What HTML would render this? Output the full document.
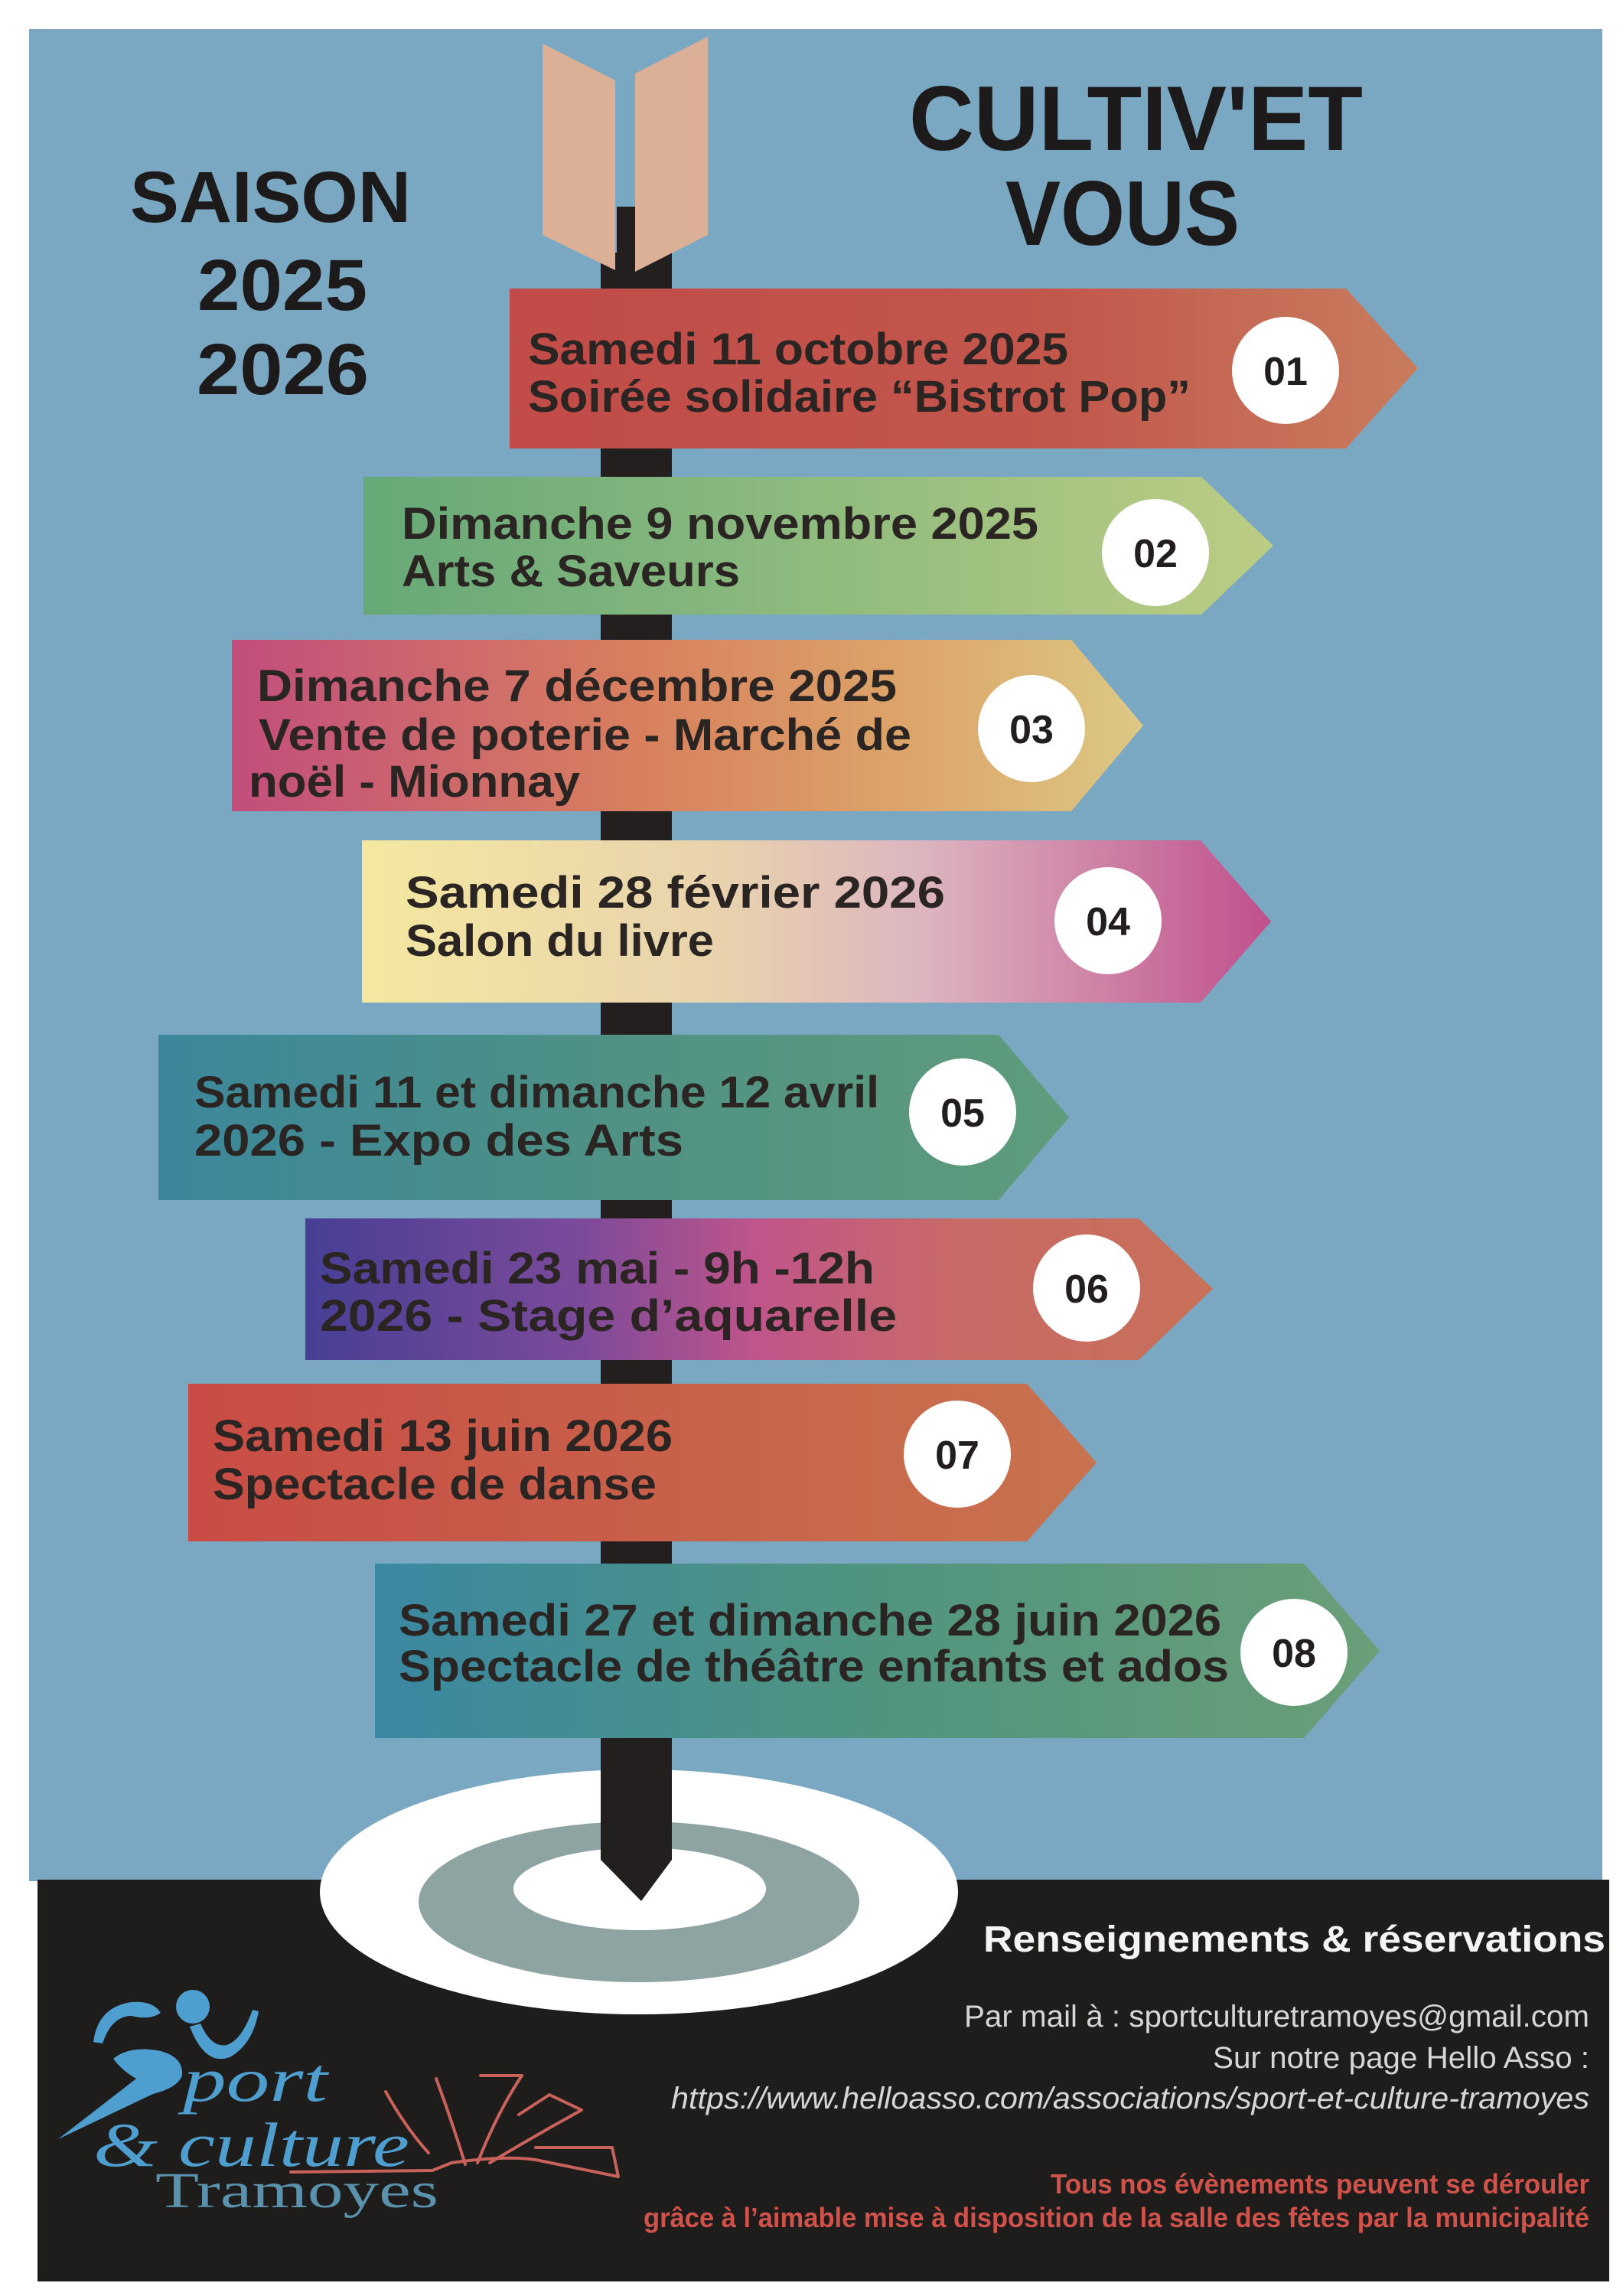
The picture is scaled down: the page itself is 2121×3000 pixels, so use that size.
<!DOCTYPE html>
<html><head><meta charset="utf-8"><style>
html,body{margin:0;padding:0;background:#fff;}
svg{display:block;}
</style></head><body>
<svg width="2121" height="3000" viewBox="0 0 2121 3000" xmlns="http://www.w3.org/2000/svg">
<defs>
<linearGradient id="g1"><stop offset="0" stop-color="#c14b48"/><stop offset="0.6" stop-color="#c2574c"/><stop offset="1" stop-color="#c87c5d"/></linearGradient>
<linearGradient id="g2"><stop offset="0" stop-color="#66a878"/><stop offset="0.5" stop-color="#8fbb7e"/><stop offset="1" stop-color="#bccd84"/></linearGradient>
<linearGradient id="g3"><stop offset="0" stop-color="#c24e7c"/><stop offset="0.45" stop-color="#d8805e"/><stop offset="0.75" stop-color="#dca66a"/><stop offset="1" stop-color="#dcc884"/></linearGradient>
<linearGradient id="g4"><stop offset="0" stop-color="#f4e8a0"/><stop offset="0.4" stop-color="#e8d2ae"/><stop offset="0.62" stop-color="#dcb4c0"/><stop offset="1" stop-color="#c0508c"/></linearGradient>
<linearGradient id="g5"><stop offset="0" stop-color="#3b879c"/><stop offset="0.5" stop-color="#4f9184"/><stop offset="1" stop-color="#5f9c7c"/></linearGradient>
<linearGradient id="g6"><stop offset="0" stop-color="#473f95"/><stop offset="0.3" stop-color="#7b4a9a"/><stop offset="0.5" stop-color="#c0558a"/><stop offset="0.72" stop-color="#c86a66"/><stop offset="1" stop-color="#c87058"/></linearGradient>
<linearGradient id="g7"><stop offset="0" stop-color="#c84c45"/><stop offset="1" stop-color="#c8734f"/></linearGradient>
<linearGradient id="g8"><stop offset="0" stop-color="#3a88a2"/><stop offset="0.5" stop-color="#50947f"/><stop offset="1" stop-color="#6a9f78"/></linearGradient>
</defs>

<rect x="0" y="0" width="2121" height="3000" fill="#ffffff"/>
<rect x="38" y="38" width="2056" height="2420" fill="#7aa8c2"/>
<rect x="49" y="2456" width="2054" height="525" fill="#1f1c1c"/>

<g font-family="Liberation Sans, sans-serif" font-weight="bold" fill="#1c1a1a">
<text x="1188" y="196" font-size="120" textLength="593" lengthAdjust="spacingAndGlyphs">CULTIV'ET</text>
<text x="1314" y="320" font-size="120" textLength="306" lengthAdjust="spacingAndGlyphs">VOUS</text>
<text x="170" y="290" font-size="95" textLength="367" lengthAdjust="spacingAndGlyphs">SAISON</text>
<text x="258" y="405" font-size="95" textLength="222" lengthAdjust="spacingAndGlyphs">2025</text>
<text x="257" y="515" font-size="95" textLength="225" lengthAdjust="spacingAndGlyphs">2026</text>
</g>

<rect x="806" y="270" width="24" height="80" fill="#231f1e"/>
<path d="M785,330 L878,330 L878,2430 L838,2484 L785,2430 Z" fill="#231f1e"/>
<polygon points="709,57 804,105 804,353 709,307" fill="#dcb096"/>
<polygon points="925,48 830,96 830,355 925,307" fill="#dcb096"/>

<ellipse cx="835" cy="2472" rx="417" ry="160" fill="#ffffff"/>
<ellipse cx="835" cy="2485" rx="288" ry="105" fill="#8ea4a3"/>
<ellipse cx="836" cy="2468" rx="165" ry="54" fill="#ffffff"/>
<path d="M785,2300 L878,2300 L878,2430 L838,2484 L785,2430 Z" fill="#231f1e"/>

<polygon points="666,377 1759,377 1853,481 1759,586 666,586" fill="url(#g1)"/>
<polygon points="475,623 1570,623 1664,713 1570,803 475,803" fill="url(#g2)"/>
<polygon points="303,836 1400,836 1494,948 1400,1060 303,1060" fill="url(#g3)"/>
<polygon points="473,1098 1569,1098 1661,1204 1569,1310 473,1310" fill="url(#g4)"/>
<polygon points="207,1352 1305,1352 1397,1460 1305,1568 207,1568" fill="url(#g5)"/>
<polygon points="399,1592 1488,1592 1585,1684 1488,1777 399,1777" fill="url(#g6)"/>
<polygon points="246,1808 1342,1808 1433,1911 1342,2014 246,2014" fill="url(#g7)"/>
<polygon points="490,2043 1704,2043 1803,2157 1704,2271 490,2271" fill="url(#g8)"/>

<g fill="#ffffff">
<circle cx="1680" cy="484" r="70"/>
<circle cx="1510" cy="722" r="70"/>
<circle cx="1348" cy="952" r="70"/>
<circle cx="1448" cy="1203" r="70"/>
<circle cx="1258" cy="1453" r="70"/>
<circle cx="1420" cy="1683" r="70"/>
<circle cx="1251" cy="1900" r="70"/>
<circle cx="1691" cy="2159" r="70"/>
</g>
<g font-family="Liberation Sans, sans-serif" font-weight="bold" fill="#221e1d" font-size="52" text-anchor="middle">
<text x="1680" y="503">01</text>
<text x="1510" y="741">02</text>
<text x="1348" y="971">03</text>
<text x="1448" y="1222">04</text>
<text x="1258" y="1472">05</text>
<text x="1420" y="1702">06</text>
<text x="1251" y="1919">07</text>
<text x="1691" y="2178">08</text>
</g>

<g font-family="Liberation Sans, sans-serif" font-weight="bold" fill="#2a2422" font-size="58">
<text x="690" y="476" textLength="706" lengthAdjust="spacingAndGlyphs">Samedi 11 octobre 2025</text>
<text x="690" y="538" textLength="866" lengthAdjust="spacingAndGlyphs">Soirée solidaire “Bistrot Pop”</text>
<text x="525" y="704" textLength="832" lengthAdjust="spacingAndGlyphs">Dimanche 9 novembre 2025</text>
<text x="525" y="766" textLength="442" lengthAdjust="spacingAndGlyphs">Arts &amp; Saveurs</text>
<text x="336" y="916" textLength="836" lengthAdjust="spacingAndGlyphs">Dimanche 7 décembre 2025</text>
<text x="338" y="980" textLength="853" lengthAdjust="spacingAndGlyphs">Vente de poterie - Marché de</text>
<text x="325" y="1041" textLength="433" lengthAdjust="spacingAndGlyphs">noël - Mionnay</text>
<text x="530" y="1186" textLength="705" lengthAdjust="spacingAndGlyphs">Samedi 28 février 2026</text>
<text x="530" y="1249" textLength="403" lengthAdjust="spacingAndGlyphs">Salon du livre</text>
<text x="254" y="1447" textLength="895" lengthAdjust="spacingAndGlyphs">Samedi 11 et dimanche 12 avril</text>
<text x="254" y="1510" textLength="639" lengthAdjust="spacingAndGlyphs">2026 -  Expo des Arts</text>
<text x="418" y="1677" textLength="725" lengthAdjust="spacingAndGlyphs">Samedi 23 mai - 9h  -12h</text>
<text x="418" y="1739" textLength="754" lengthAdjust="spacingAndGlyphs">2026 -  Stage d’aquarelle</text>
<text x="278" y="1896" textLength="601" lengthAdjust="spacingAndGlyphs">Samedi 13 juin 2026</text>
<text x="278" y="1959" textLength="580" lengthAdjust="spacingAndGlyphs">Spectacle de danse</text>
<text x="521" y="2137" textLength="1075" lengthAdjust="spacingAndGlyphs">Samedi 27 et dimanche 28 juin 2026</text>
<text x="521" y="2197" textLength="1085" lengthAdjust="spacingAndGlyphs">Spectacle de théâtre enfants et ados</text>
</g>

<text x="1285" y="2550" font-family="Liberation Sans, sans-serif" font-weight="bold" font-size="48" fill="#f4f4f4" textLength="813" lengthAdjust="spacingAndGlyphs">Renseignements &amp; réservations</text>
<g font-family="Liberation Sans, sans-serif" font-size="40" fill="#d6d6d6">
<text x="1260" y="2648" textLength="817" lengthAdjust="spacingAndGlyphs">Par mail à : sportculturetramoyes@gmail.com</text>
<text x="1585" y="2702" textLength="492" lengthAdjust="spacingAndGlyphs">Sur notre page Hello Asso :</text>
<text x="877" y="2755" font-style="italic" textLength="1200" lengthAdjust="spacingAndGlyphs">https://www.helloasso.com/associations/sport-et-culture-tramoyes</text>
</g>
<g font-family="Liberation Sans, sans-serif" font-weight="bold" font-size="36" fill="#d0524a">
<text x="1373" y="2866" textLength="704" lengthAdjust="spacingAndGlyphs">Tous nos évènements peuvent se dérouler</text>
<text x="841" y="2910" textLength="1236" lengthAdjust="spacingAndGlyphs">grâce à l’aimable mise à disposition de la salle des fêtes par la municipalité</text>
</g>

<g fill="#4e9fcf" stroke="none">
<circle cx="252" cy="2622" r="22"/>
<path d="M122,2668 Q128,2622 172,2616 Q200,2614 210,2630 Q196,2640 172,2634 Q146,2634 134,2670 Z"/>
<path d="M248,2648 Q268,2700 300,2688 Q330,2672 338,2628 L330,2626 Q316,2666 296,2672 Q276,2676 262,2644 Z"/>
<path d="M148,2690 Q170,2672 210,2680 Q240,2688 238,2712 Q232,2728 200,2736 L76,2795 L178,2716 Q160,2706 148,2690 Z"/>
</g>
<g font-family="Liberation Serif, serif" font-style="italic" fill="#4e9fcf">
<text x="239" y="2745" font-size="82" textLength="189" lengthAdjust="spacingAndGlyphs">port</text>
<text x="122" y="2830" font-size="82" textLength="413" lengthAdjust="spacingAndGlyphs">&amp; culture</text>
</g>
<text x="203" y="2884" font-family="Liberation Serif, serif" font-size="66" fill="#5a92ad" textLength="370" lengthAdjust="spacingAndGlyphs">Tramoyes</text>
<g fill="none" stroke="#c9625a" stroke-width="4" stroke-linecap="round" stroke-linejoin="round">
<path d="M380,2838 L565,2836 L590,2826 Q660,2816 700,2822 L808,2844 L800,2806 L700,2806"/>
<path d="M504,2733 Q530,2780 560,2813"/>
<path d="M570,2716 Q590,2770 608,2828"/>
<path d="M628,2712 L682,2712 Q650,2760 624,2826"/>
<path d="M678,2763 L718,2737 L760,2757 Q700,2790 640,2826"/>
</g>
</svg>
</body></html>
